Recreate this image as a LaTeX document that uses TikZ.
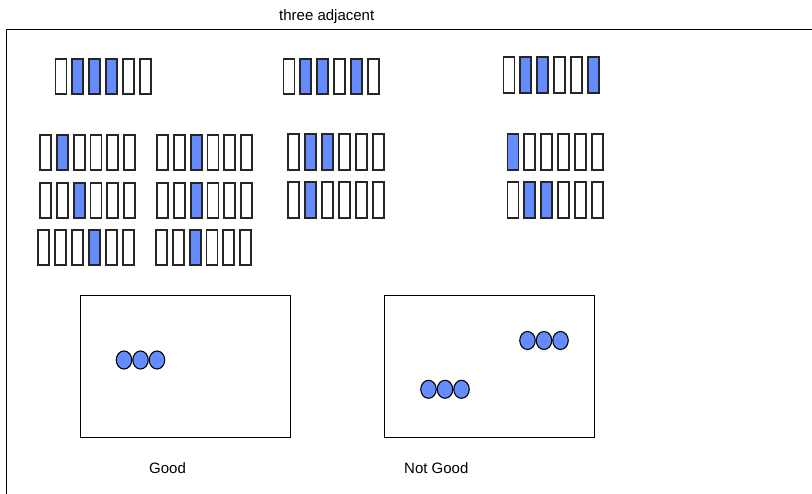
\documentclass[tikz,border=0pt]{standalone}
\usepackage{fontspec}
\setmainfont{Liberation Sans}
\usetikzlibrary{shapes.geometric}
\usetikzlibrary{positioning}
\definecolor{cellblue}{RGB}{100,140,255}

\newcommand{\cellrow}[4]{%
  \foreach \c [count=\i from 0] in {#4} {
    \node[cell, fill=\c] (#1-\i) at ({#2+\i*16.9}, #3) {};
  }}
\newcommand{\dotrow}[3]{%
  \foreach \i in {0,1,2} {
    \node[dot] (#1-\i) at ({#2+\i*16.5}, #3) {};
  }}

\begin{document}
\begin{tikzpicture}[
          x=1pt, y=-1pt,
          cell/.style={
            draw=black!85,
            line width=1.9pt,
            minimum width=11pt,
            minimum height=35.5pt,
            inner sep=0pt},
          dot/.style={
            ellipse,
            draw,
            line width=1.1pt,
            fill=cellblue,
            minimum width=15.5pt,
            minimum height=18pt,
            inner sep=0pt},
          frame/.style={
            draw,
            line width=1pt},
          label/.style={
            font=\fontsize{15}{17}\selectfont,
            inner sep=0pt}
        ]
          \clip (0,0) rectangle (812,494);
          \draw[frame] (6.5,29.5) rectangle (830,510);

          \node[label, anchor=west] (title) at (279,17) {three adjacent};

          \cellrow{ra}{61}{76.5}{white,cellblue,cellblue,cellblue,white,white}
          \cellrow{rb}{289}{76.5}{white,cellblue,cellblue,white,cellblue,white}
          \cellrow{rc}{509}{75}{white,cellblue,cellblue,white,white,cellblue}

          \cellrow{aa}{45.3}{152.5}{white,cellblue,white,white,white,white}
          \cellrow{ab}{162.3}{152.5}{white,white,cellblue,white,white,white}
          \cellrow{ac}{293.6}{152}{white,cellblue,cellblue,white,white,white}
          \cellrow{ad}{513}{152}{cellblue,white,white,white,white,white}

          \cellrow{ba}{45.3}{200.5}{white,white,cellblue,white,white,white}
          \cellrow{bb}{162.3}{200.5}{white,white,cellblue,white,white,white}
          \cellrow{bc}{293.6}{200}{white,cellblue,white,white,white,white}
          \cellrow{bd}{513}{200}{white,cellblue,cellblue,white,white,white}

          \cellrow{ca}{43.6}{247.5}{white,white,white,cellblue,white,white}
          \cellrow{cb}{161.3}{247.5}{white,white,cellblue,white,white,white}

          \draw[frame] (80,296) rectangle (290,438);
          \draw[frame] (384,296) rectangle (594,438);

          \dotrow{good}{124}{360}
          \dotrow{bad1}{527.5}{340.5}
          \dotrow{bad2}{428.5}{389.3}

          \node[label, anchor=west] (good) at (149,468) {Good};
          \node[label, anchor=west] (notgood) at (404,468) {Not Good};
        \end{tikzpicture}
\end{document}
